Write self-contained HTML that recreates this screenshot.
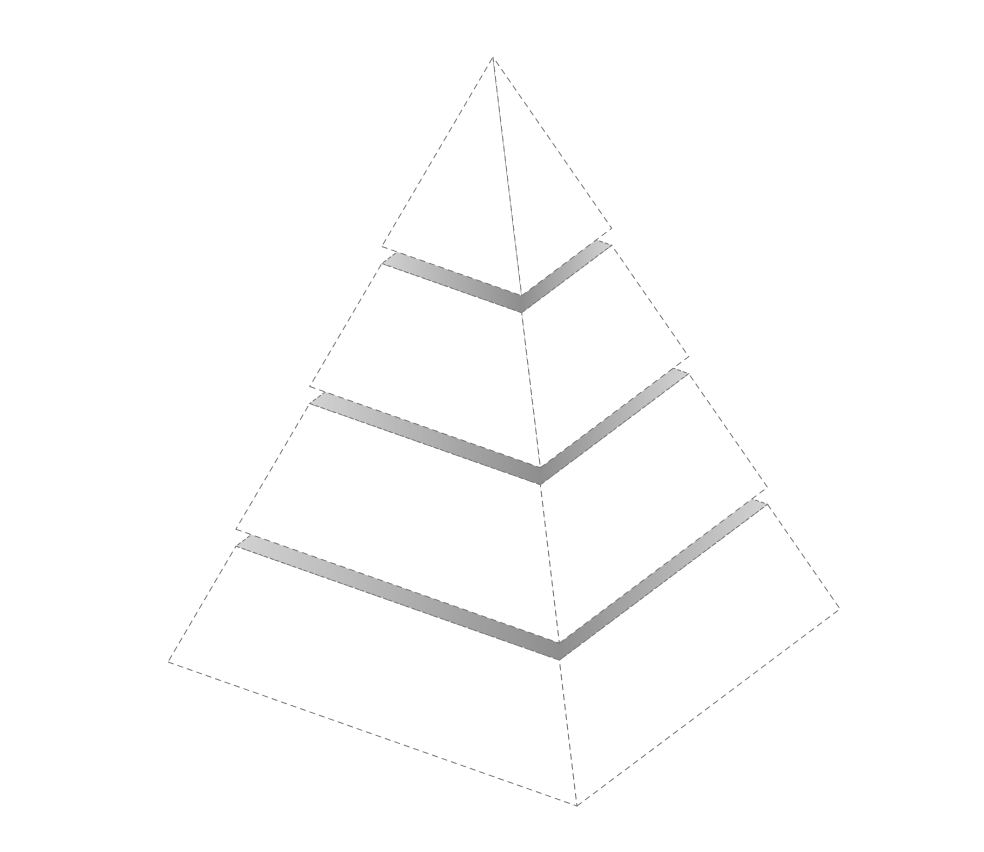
<!DOCTYPE html>
<html><head><meta charset="utf-8"><style>
html,body{margin:0;padding:0;background:#fff;}
svg{display:block;}
</style></head><body>
<svg id="chart" width="984" height="852" viewBox="0 0 984 852" xmlns="http://www.w3.org/2000/svg">
<defs id="defs"></defs>
<g id="layers"></g>
</svg>
<script>
// layer data, listed from top to bottom (relative heights)
const categories = ["Layer 1", "Layer 2", "Layer 3", "Layer 4"];
const values = [34.2, 22.2, 22.7, 20.9];
const gapPx = 17;

const NS = "http://www.w3.org/2000/svg";
const n = values.length;
const apex = [493, 57 + gapPx * (n - 1)];
const baseL = [168, 662], baseF = [577, 806], baseR = [840, 609];
const baseB = [baseL[0] + baseR[0] - baseF[0], baseL[1] + baseR[1] - baseF[1]];

function corner(base, t, shift) { return [base[0] + (apex[0] - base[0]) * t, base[1] + (apex[1] - base[1]) * t - shift]; }
function pts(arr) { return arr.map(p => p[0].toFixed(1) + "," + p[1].toFixed(1)).join(" "); }

const sum = values.reduce((a, b) => a + b, 0);
const ranges = [];
let t = 0;
for (let i = n - 1; i >= 0; i--) {
  const h = values[i] / sum;
  ranges[i] = [t, t + h];
  t += h;
}
ranges[0][1] = 1;

const g = document.getElementById("layers");
const defs = document.getElementById("defs");
const dash = "6,4";

for (let i = n - 1; i >= 0; i--) {
  const [t0, t1] = ranges[i];
  const sh = gapPx * (n - 1 - i);
  const seg = document.createElementNS(NS, "g");
  
  
  const L0 = corner(baseL, t0, sh), F0 = corner(baseF, t0, sh), R0 = corner(baseR, t0, sh);
  const L1 = corner(baseL, t1, sh), F1 = corner(baseF, t1, sh), R1 = corner(baseR, t1, sh), B1 = corner(baseB, t1, sh);
  const left = document.createElementNS(NS, "polygon");
  
  
  left.setAttribute("points", pts([L0, F0, F1, L1]));
  const right = document.createElementNS(NS, "polygon");
  
  
  right.setAttribute("points", pts([F0, R0, R1, F1]));
  [left, right].forEach(p => {
    p.setAttribute("fill", "#fff");
    p.setAttribute("stroke", "#777");
    p.setAttribute("stroke-width", "1");
    p.setAttribute("stroke-dasharray", dash);
    seg.appendChild(p);
  });
  if (t1 < 1) {
    const gid = "grad" + i;
    const lg = document.createElementNS(NS, "linearGradient");
    lg.setAttribute("id", gid);
    lg.setAttribute("gradientUnits", "userSpaceOnUse");
    lg.setAttribute("x1", L1[0]); lg.setAttribute("y1", 0);
    lg.setAttribute("x2", R1[0]); lg.setAttribute("y2", 0);
    const off = (F1[0] - L1[0]) / (R1[0] - L1[0]);
    [[0, "#d2d2d2"], [off, "#8e8e8e"], [1, "#d2d2d2"]].forEach(([o, c]) => {
      const s = document.createElementNS(NS, "stop");
      s.setAttribute("offset", o);
      s.setAttribute("stop-color", c);
      lg.appendChild(s);
    });
    defs.appendChild(lg);
    const top = document.createElementNS(NS, "polygon");
    
    
    top.setAttribute("points", pts([L1, F1, R1, B1]));
    top.setAttribute("fill", "url(#" + gid + ")");
    top.setAttribute("stroke", "#777");
    top.setAttribute("stroke-width", "1");
    top.setAttribute("stroke-dasharray", "4,2");
    seg.appendChild(top);
  }
  const title = document.createElementNS(NS, "title");
  title.textContent = categories[i] + ": " + values[i];
  seg.appendChild(title);
  g.appendChild(seg);
}
</script>
</body></html>
